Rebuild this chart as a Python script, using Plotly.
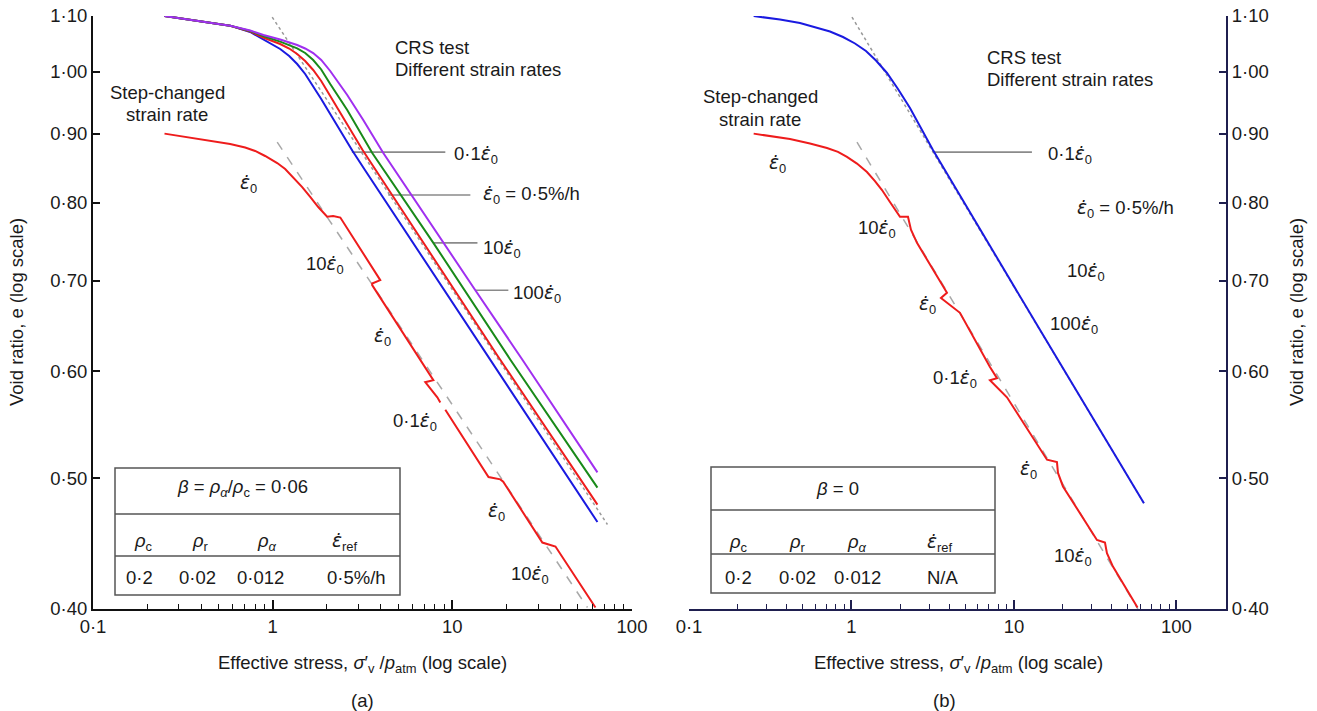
import math
import plotly.graph_objects as go

W, H = 1317, 711
FONT = "Liberation Sans, Arial, sans-serif"
TXT = "#1a1a1a"
FS = 18.5

# ---------------- data: panel (a), beta = 0.06 ----------------
# CRS tests at different strain rates (x = effective stress / p_atm, e = void ratio)
a_blue_x = [0.25, 0.40, 0.580, 0.749, 0.885, 0.994, 1.101, 1.236, 1.369, 1.517, 1.681, 1.863, 2.091,
            2.407, 2.773, 3.276, 15.88, 64.2]
a_blue_e = [1.100, 1.090, 1.082, 1.0704, 1.0577, 1.0487, 1.0398, 1.0274, 1.0135, 0.9964, 0.9762, 0.9548,
            0.9307, 0.9017, 0.8744, 0.8451, 0.6149, 0.464]
a_red_x = [0.25, 0.40, 0.580, 0.749, 0.885, 1.101, 1.236, 1.369, 1.517, 1.681, 1.863, 2.091, 2.534,
           3.152, 3.972, 18.04, 64.2]
a_red_e = [1.100, 1.090, 1.082, 1.0713, 1.0604, 1.0487, 1.0407, 1.0310, 1.0187, 1.0032, 0.9846, 0.9597,
           0.9189, 0.8760, 0.8358, 0.6149, 0.478]
a_green_x = [0.25, 0.40, 0.580, 0.749, 0.885, 1.101, 1.369, 1.517, 1.681, 1.863, 2.091, 2.600, 3.583,
             7.839, 21.04, 64.2]
a_green_e = [1.100, 1.090, 1.082, 1.0722, 1.0631, 1.0529, 1.0410, 1.0327, 1.0205, 1.0041, 0.9795, 0.9371,
             0.8708, 0.747, 0.612, 0.492]
a_purple_x = [0.25, 0.40, 0.580, 0.749, 0.889, 1.101, 1.369, 1.517, 1.681, 1.863, 2.091, 2.600, 3.193,
              4.127, 7.541, 13.43, 24.55, 64.2]
a_purple_e = [1.100, 1.090, 1.082, 1.073, 1.065, 1.0568, 1.0469, 1.0407, 1.0327, 1.0205, 1.0015, 0.9613,
              0.9212, 0.8708, 0.772, 0.689, 0.612, 0.505]
# step-changed strain rate
a_step_x = [0.25, 0.4207, 0.580, 0.703, 0.799, 0.908, 1.06, 1.174, 1.301, 1.460, 1.618, 1.793, 2.01,
            2.17, 2.38, 3.97, 3.58, 3.58, 7.84, 7.07, 8.25, 8.57, None, 9.14, 15.9, 18.5, 19.2, 31.7,
            37.5, 62.6]
a_step_e = [0.900, 0.8903, 0.8843, 0.8790, 0.8738, 0.8663, 0.856, 0.8473, 0.8358, 0.8216, 0.8079, 0.7941,
            0.781, 0.782, 0.780, 0.701, 0.697, 0.695, 0.591, 0.589, 0.574, 0.569, None, 0.562, 0.501,
            0.499, 0.497, 0.448, 0.445, 0.401]
# reference lines
a_ref_crs_x = [0.994, 73.0]
a_ref_crs_e = [1.098, 0.462]
a_ref_step_x = [1.06, 56.5]
a_ref_step_e = [0.887, 0.401]
# leader lines for the rate labels
a_lead_e = [0.872, 0.8105, 0.747, 0.689]
a_lead_x0 = [2.76, 4.40, 7.84, 13.4]
a_lead_x1 = [9.14, 12.6, 13.8, 20.5]

# ---------------- data: panel (b), beta = 0 ----------------
b_blue_x = [0.25, 0.3631, 0.4820, 0.5963, 0.7375, 0.8866, 1.051, 1.228, 1.415, 1.654, 1.933, 2.291,
            2.677, 3.173, 14.45, 63.1]
b_blue_e = [1.100, 1.0934, 1.0869, 1.0796, 1.0713, 1.0613, 1.0496, 1.0362, 1.0196, 0.9981, 0.9712,
            0.9402, 0.9088, 0.8751, 0.644, 0.479]
b_step_x = [0.25, 0.4183, 0.5553, 0.7068, 0.8259, 0.938, 1.081, 1.2454, 1.395, 1.541, 1.725, 1.989,
            2.227, 2.323, 2.530, 3.870, 3.554, 4.653, 7.117, 7.861, 7.117, 9.055, 10.43, 15.97, 18.39,
            18.66, 20.03, 32.41, 36.31, 37.35, 40.66, 57.6]
b_step_e = [0.900, 0.8917, 0.8850, 0.8783, 0.8724, 0.8650, 0.8552, 0.8430, 0.8300, 0.8174, 0.8010, 0.781,
            0.781, 0.764, 0.747, 0.686, 0.680, 0.663, 0.6045, 0.593, 0.591, 0.574, 0.559, 0.516, 0.514,
            0.5045, 0.493, 0.450, 0.448, 0.440, 0.430, 0.401]
b_ref_crs_x = [1.007, 63.1]
b_ref_crs_e = [1.098, 0.479]
b_ref_step_x = [1.081, 57.9]
b_ref_step_e = [0.887, 0.400]
b_lead_e = [0.872]
b_lead_x0 = [3.17]
b_lead_x1 = [12.9]

# ---------------- axis ticks ----------------
x_major = [0.1, 1, 10, 100]
x_major_text = ["0·1", "1", "10", "100"]
x_minor = [m * d for d in (0.1, 1, 10) for m in range(2, 10)]
y_ticks = [0.40, 0.50, 0.60, 0.70, 0.80, 0.90, 1.00, 1.10]
y_ticks_text = ["0·40", "0·50", "0·60", "0·70", "0·80", "0·90", "1·00", "1·10"]

BLUE = "#1a1ae0"
RED = "#ee1c1c"
GREEN = "#198a19"
PURPLE = "#a02ff0"
GREY = "#999999"
LEAD = "#8a8a8a"

fig = go.Figure()


def line(x, y, color, width=2.0, dash=None, xa="x", ya="y"):
    ln = dict(color=color, width=width)
    if dash:
        ln["dash"] = dash
    fig.add_trace(go.Scatter(x=x, y=y, mode="lines", xaxis=xa, yaxis=ya, line=ln,
                             hoverinfo="skip", connectgaps=False, showlegend=False))


# panel (a)
line(a_ref_crs_x, a_ref_crs_e, GREY, 1.5, "dot")
line(a_ref_step_x, a_ref_step_e, "#a8a8a8", 1.5, "dash")
for e, x0, x1 in zip(a_lead_e, a_lead_x0, a_lead_x1):
    line([x0, x1], [e, e], LEAD, 1.6)
line(a_blue_x, a_blue_e, BLUE, 2)
line(a_red_x, a_red_e, RED, 2)
line(a_green_x, a_green_e, GREEN, 2)
line(a_purple_x, a_purple_e, PURPLE, 2)
line(a_step_x, a_step_e, RED, 2)

# panel (b)
line(b_ref_crs_x, b_ref_crs_e, GREY, 1.5, "dot", "x2", "y2")
line(b_ref_step_x, b_ref_step_e, "#a8a8a8", 1.5, "dash", "x2", "y2")
for e, x0, x1 in zip(b_lead_e, b_lead_x0, b_lead_x1):
    line([x0, x1], [e, e], LEAD, 1.6, xa="x2", ya="y2")
line(b_blue_x, b_blue_e, BLUE, 2, xa="x2", ya="y2")
line(b_step_x, b_step_e, RED, 2, xa="x2", ya="y2")

yr = [math.log10(0.4), math.log10(1.1)]
ydom = [1 - 609 / H, 1 - 16 / H]


def xaxis(dom, rng, color, anchor):
    return dict(type="log", range=rng, domain=dom, anchor=anchor, showline=True, linecolor=color,
                linewidth=2, ticks="inside", ticklen=9, tickwidth=1.5, tickcolor=color,
                tickvals=x_major, ticktext=x_major_text, showgrid=False, zeroline=False,
                automargin=False, fixedrange=True,
                tickfont=dict(family=FONT, size=FS, color=TXT),
                minor=dict(tickvals=x_minor, ticks="inside", ticklen=5, tickwidth=1.3,
                           tickcolor=color, showgrid=False))


def yaxis(anchor, color, side):
    return dict(type="log", range=yr, domain=ydom, anchor=anchor, side=side, showline=True,
                linecolor=color, linewidth=2, ticks="inside", ticklen=7, tickwidth=1.5,
                tickcolor=color, tickvals=y_ticks, ticktext=y_ticks_text, showgrid=False,
                zeroline=False, automargin=False, fixedrange=True,
                tickfont=dict(family=FONT, size=FS, color=TXT))


NAVY = "#1f1f4f"
fig.update_layout(
    width=W, height=H, autosize=False,
    margin=dict(l=0, r=0, t=0, b=0, pad=0),
    paper_bgcolor="white", plot_bgcolor="white",
    showlegend=False,
    xaxis=xaxis([93 / W, 632 / W], [-1, 2], "#111111", "y"),
    yaxis=yaxis("x", "#111111", "left"),
    xaxis2=xaxis([689 / W, 1226 / W], [-1, 2.305], NAVY, "y2"),
    yaxis2=yaxis("x2", NAVY, "right"),
)

anns = []


def ann(text, px, py, xanchor="center", size=FS, angle=0):
    anns.append(dict(text=text, x=px / W, y=1 - py / H, xref="paper", yref="paper",
                     xanchor=xanchor, yanchor="middle", showarrow=False, textangle=angle,
                     font=dict(family=FONT, size=size, color=TXT)))


ED = "<span style=\"font-family:'DejaVu Sans'\"><i>ε\u0307</i></span>"
E0 = ED + "<sub>0</sub>"

# panel (a) texts
ann("Step-changed", 167, 93)
ann("strain rate", 167, 114)
ann("CRS test", 393, 48, "left")
ann("Different strain rates", 393, 70, "left")
ann(E0, 248, 184)
ann("10" + E0, 325, 265)
ann(E0, 382, 337)
ann("0·1" + E0, 415, 422)
ann(E0, 497, 512)
ann("10" + E0, 530, 575)
ann("0·1" + E0, 452, 155, "left")
ann(E0 + " = 0·5%/h", 481, 195, "left")
ann("10" + E0, 481, 249, "left")
ann("100" + E0, 511, 294, "left")

# panel (b) texts
ann("Step-changed", 760, 97)
ann("strain rate", 760, 119)
ann("CRS test", 985, 57, "left")
ann("Different strain rates", 985, 79, "left")
ann(E0, 777, 164)
ann("10" + E0, 877, 229)
ann(E0, 927, 305)
ann("0·1" + E0, 955, 379)
ann(E0, 1028, 470)
ann("10" + E0, 1073, 557)
ann("0·1" + E0, 1046, 155, "left")
ann(E0 + " = 0·5%/h", 1075, 209, "left")
ann("10" + E0, 1065, 272, "left")
ann("100" + E0, 1048, 325, "left")

# axis titles and panel labels
XT = "Effective stress, <i>σ</i>′<sub>v</sub> /<i>p</i><sub>atm</sub> (log scale)"
ann(XT, 362, 664)
ann(XT, 958, 664)
ann("(a)", 362, 700)
ann("(b)", 945, 700)
ann("Void ratio, e (log scale)", 16, 312, angle=-90)
ann("Void ratio, e (log scale)", 1296, 312, angle=-90)

# parameter tables
RHO_A = "<i>ρ</i><sub><i>α</i></sub>"
ann("<i>β</i> = <i>ρ</i><sub><i>α</i></sub>/<i>ρ</i><sub>c</sub> = 0·06", 242, 488)
for t, px in zip(["<i>ρ</i><sub>c</sub>", "<i>ρ</i><sub>r</sub>", RHO_A, ED + "<sub>ref</sub>"],
                 [143, 200, 267, 345]):
    ann(t, px, 542)
for t, px in zip(["0·2", "0·02", "0·012", "0·5%/h"], [139, 198, 260, 356]):
    ann(t, px, 577)

ann("<i>β</i> = 0", 838, 488)
for t, px in zip(["<i>ρ</i><sub>c</sub>", "<i>ρ</i><sub>r</sub>", RHO_A, ED + "<sub>ref</sub>"],
                 [738, 798, 857, 940]):
    ann(t, px, 543)
for t, px in zip(["0·2", "0·02", "0·012", "N/A"], [738, 797, 857, 943]):
    ann(t, px, 577)

shapes = []


def table(x0, x1, y0, y1, rows):
    box = "#555555"
    shapes.append(dict(type="rect", xref="paper", yref="paper", x0=x0 / W, x1=x1 / W,
                       y0=1 - y1 / H, y1=1 - y0 / H, line=dict(color=box, width=1.5),
                       fillcolor="rgba(0,0,0,0)", layer="above"))
    for r in rows:
        shapes.append(dict(type="line", xref="paper", yref="paper", x0=x0 / W, x1=x1 / W,
                           y0=1 - r / H, y1=1 - r / H, line=dict(color=box, width=1.5)))


table(115, 400, 468, 595, [514, 556])
table(711, 995, 467, 593, [510, 554])

fig.update_layout(annotations=anns, shapes=shapes)
fig.write_html("out.html", config={"displayModeBar": False})
